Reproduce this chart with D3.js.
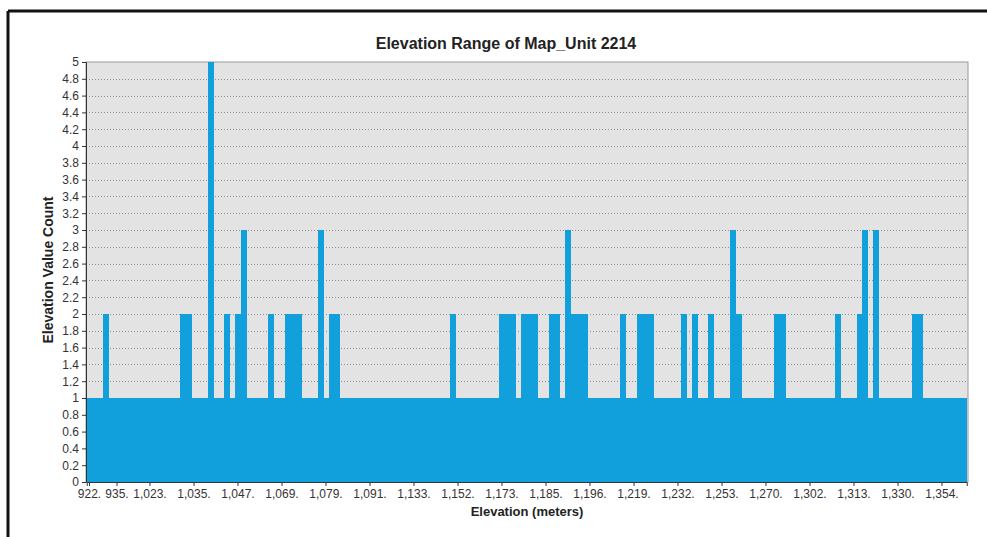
<!DOCTYPE html>
<html>
<head>
<meta charset="utf-8">
<script src="https://cdn.jsdelivr.net/npm/d3@7"></script>
<style>
  html, body { margin: 0; padding: 0; background: #fff; }
  svg { display: block; }
</style>
</head>
<body>
<svg id="chart" width="987" height="537"></svg>
<script>
// ---- data ----
const chartTitle = "Elevation Range of Map_Unit 2214";
const xTitle = "Elevation (meters)";
const yTitle = "Elevation Value Count";

// count for each distinct elevation value (160 bins, left to right)
const counts = [
  1,1,1,2,1,1,1,1,1,1, 1,1,1,1,1,1,1,2,2,1,
  1,1,5,1,1,2,1,2,3,1, 1,1,1,2,1,1,2,2,2,1,
  1,1,3,1,2,2,1,1,1,1, 1,1,1,1,1,1,1,1,1,1,
  1,1,1,1,1,1,2,1,1,1, 1,1,1,1,1,2,2,2,1,2,
  2,2,1,1,2,2,1,3,2,2, 2,1,1,1,1,1,1,2,1,1,
  2,2,2,1,1,1,1,1,2,1, 2,1,1,2,1,1,1,3,2,1,
  1,1,1,1,1,2,2,1,1,1, 1,1,1,1,1,1,2,1,1,1,
  2,3,1,3,1,1,1,1,1,1, 2,2,1,1,1,1,1,1,1,1
];
// bins that carry a visible axis label
const tickIndex  = [0, 5, 11, 19, 27, 35, 43, 51, 59, 67, 75, 83, 91, 99, 107, 115, 123, 131, 139, 147, 155];
const tickLabels = ["922.", "935.", "1,023.", "1,035.", "1,047.", "1,069.", "1,079.", "1,091.", "1,133.", "1,152.",
                    "1,173.", "1,185.", "1,196.", "1,219.", "1,232.", "1,253.", "1,270.", "1,302.", "1,313.", "1,330.", "1,354."];
const yTicks = [0,0.2,0.4,0.6,0.8,1,1.2,1.4,1.6,1.8,2,2.2,2.4,2.6,2.8,3,3.2,3.4,3.6,3.8,4,4.2,4.4,4.6,4.8,5];

// ---- layout ----
const svg = d3.select("#chart");
const plot = { left: 86, right: 968, top: 62, bottom: 482 };
const font = "'Liberation Sans', Arial, sans-serif";

// outer frame (black lines top & left)
svg.append("line").attr("x1", 8).attr("x2", 987).attr("y1", 11).attr("y2", 11)
  .attr("stroke", "#111").attr("stroke-width", 3);
svg.append("line").attr("x1", 8).attr("x2", 8).attr("y1", 11).attr("y2", 537)
  .attr("stroke", "#111").attr("stroke-width", 3);

const x = d3.scaleBand()
  .domain(d3.range(counts.length))
  .range([plot.left + 0.75, plot.right - 1.25])
  .padding(0);
const y = d3.scaleLinear().domain([0, 5]).range([plot.bottom, plot.top]);

// plot background
svg.append("rect")
  .attr("x", plot.left).attr("y", plot.top)
  .attr("width", plot.right - plot.left).attr("height", plot.bottom - plot.top)
  .attr("fill", "#e3e3e3").attr("stroke", "#9a9a9a").attr("stroke-width", 1);

// gridlines
svg.append("g").selectAll("line")
  .data(yTicks.filter(d => d > 0 && d < 5))
  .join("line")
  .attr("x1", plot.left).attr("x2", plot.right)
  .attr("y1", d => Math.round(y(d)) + 0.5).attr("y2", d => Math.round(y(d)) + 0.5)
  .attr("stroke", "#8f8f8f").attr("stroke-width", 1).attr("stroke-dasharray", "1,2");

// bars
svg.append("g").selectAll("rect")
  .data(counts)
  .join("rect")
  .attr("x", (d, i) => x(i))
  .attr("width", x.bandwidth() + 0.3)
  .attr("y", d => y(d))
  .attr("height", d => y(0) - y(d))
  .attr("fill", "#12a0dc")
  .attr("shape-rendering", "crispEdges");

// y axis
const yAxis = d3.axisLeft(y).tickValues(yTicks).tickSize(4).tickPadding(3)
  .tickFormat(d3.format("~g"));
const gy = svg.append("g").attr("transform", `translate(${plot.left},0)`).call(yAxis);
gy.select(".domain").attr("stroke", "#333");
gy.selectAll(".tick line").attr("stroke", "#333");
gy.selectAll(".tick text").attr("font-family", font).attr("font-size", 12).attr("fill", "#333");

// x axis
const xAxis = d3.axisBottom(x).tickValues(tickIndex).tickSize(4).tickPadding(3)
  .tickFormat((d, i) => tickLabels[i]);
const gx = svg.append("g").attr("transform", `translate(0,${plot.bottom})`).call(xAxis);
gx.select(".domain").attr("stroke", "#333");
gx.selectAll(".tick line").attr("stroke", "#333");
gx.selectAll(".tick text").attr("font-family", font).attr("font-size", 12).attr("fill", "#333");

// titles
svg.append("text").attr("x", 506).attr("y", 49).attr("text-anchor", "middle")
  .attr("font-family", font).attr("font-size", 16).attr("font-weight", "bold").attr("fill", "#222")
  .text(chartTitle);
svg.append("text").attr("x", (plot.left + plot.right) / 2).attr("y", 516).attr("text-anchor", "middle")
  .attr("font-family", font).attr("font-size", 13).attr("font-weight", "bold").attr("fill", "#222")
  .text(xTitle);
svg.append("text").attr("transform", `translate(53,${(plot.top + plot.bottom) / 2 - 2}) rotate(-90)`)
  .attr("text-anchor", "middle")
  .attr("font-family", font).attr("font-size", 14).attr("font-weight", "bold").attr("fill", "#222")
  .text(yTitle);
</script>
</body>
</html>
